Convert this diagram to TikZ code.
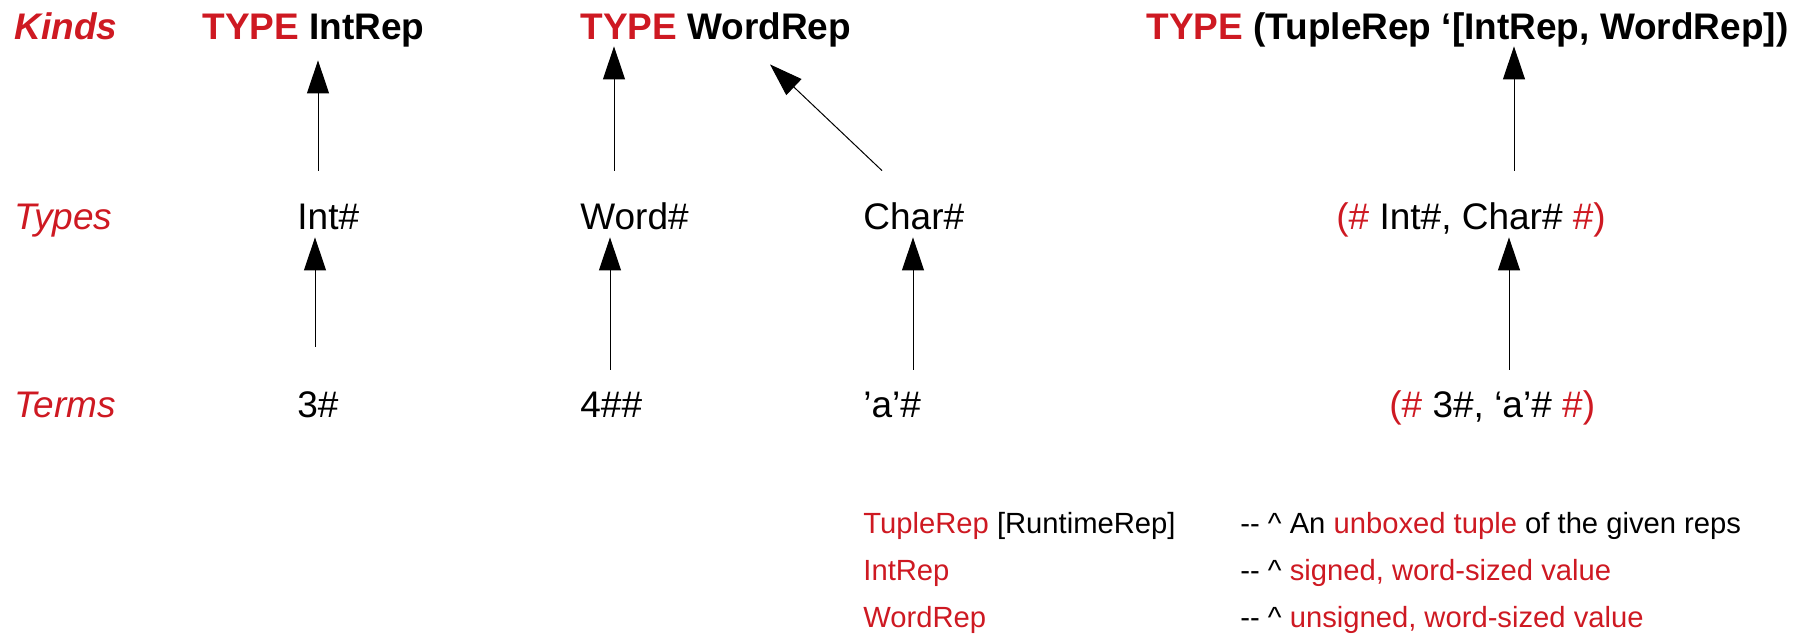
\documentclass[tikz,border=0pt]{standalone}
\usepackage{fontspec}
\setmainfont{Liberation Sans}
\usepackage{xcolor}
\usepackage{tikz}
\usetikzlibrary{arrows.meta}
\definecolor{rd}{RGB}{206,25,34}
\tikzset{big/.style={anchor=base west,inner sep=0pt,font=\fontsize{18.5}{22}\selectfont,text height=13.5pt,text depth=4pt}}
\tikzset{small/.style={anchor=base west,inner sep=0pt,font=\fontsize{14.6}{18}\selectfont}}
\tikzset{up/.style={-{Triangle[length=16.5pt,width=11pt]},line width=0.5pt}}

\begin{document}
\begin{tikzpicture}[x=0.5pt,y=-0.5pt]
        \useasboundingbox (0,0) rectangle (1812,634);

        % row labels
        \node[big,rd] (lk) at (14,39) {\textbf{\textit{Kinds}}};
        \node[big,rd] (lt) at (14,229) {\textit{Types}};
        \node[big,rd] (le) at (14,417) {\textit{Terms}};

        % kinds
        \node[big] (k1) at (202,39) {\textbf{\textcolor{rd}{TYPE} IntRep}};
        \node[big] (k2) at (580,39) {\textbf{\textcolor{rd}{TYPE} WordRep}};
        \node[big] (k3) at (1146,39) {\textbf{\textcolor{rd}{TYPE} (TupleRep `[IntRep, WordRep])}};

        % types
        \node[big] (t1) at (297,229) {Int\#};
        \node[big] (t2) at (580,229) {Word\#};
        \node[big] (t3) at (863,229) {Char\#};
        \node[big] (t4) at (1336,229) {\textcolor{rd}{(\#} Int\#, Char\# \textcolor{rd}{\#)}};

        % terms
        \node[big] (e1) at (297,417) {3\#};
        \node[big] (e2) at (580,417) {4\#\#};
        \node[big] (e3) at (863,417) {'a'\#};
        \node[big] (e4) at (1389,417) {\textcolor{rd}{(\#} 3\#, `a'\# \textcolor{rd}{\#)}};

        \draw [up] ([xshift=10.5pt,yshift=15.5pt]t1.north west) to [] ([xshift=58pt,yshift=-6.5pt]k1.south west);
        \draw [up] ([xshift=17pt,yshift=15.5pt]t2.north west) to [] ([xshift=17pt,yshift=0.5pt]k2.south west);
        \draw [up] ([xshift=9.5pt,yshift=15.5pt]t3.north west) to [] ([xshift=95pt,yshift=-8.5pt]k2.south west);
        \draw [up] ([xshift=89pt,yshift=15.5pt]t4.north west) to [] ([xshift=184pt,yshift=0.5pt]k3.south west);

        \draw [up] ([xshift=9pt,yshift=21.5pt]e1.north west) to [] ([xshift=9pt]t1.south west);
        \draw [up] ([xshift=15pt,yshift=10pt]e2.north west) to [] ([xshift=15pt]t2.south west);
        \draw [up] ([xshift=25pt,yshift=10pt]e3.north west) to [] ([xshift=25pt]t3.south west);
        \draw [up] ([xshift=60pt,yshift=10pt]e4.north west) to [] ([xshift=86.5pt]t4.south west);

        % legend
        \node[small] (l1) at (863,533) {\textcolor{rd}{TupleRep} [RuntimeRep]};
        \node[small] (l2) at (863,580) {\textcolor{rd}{IntRep}};
        \node[small] (l3) at (863,627) {\textcolor{rd}{WordRep}};
        \node[small] (c1) at (1240,533) {-{}- \textasciicircum{} An \textcolor{rd}{unboxed tuple} of the given reps};
        \node[small] (c2) at (1240,580) {-{}- \textasciicircum{} \textcolor{rd}{signed, word-sized value}};
        \node[small] (c3) at (1240,627) {-{}- \textasciicircum{} \textcolor{rd}{unsigned, word-sized value}};
\end{tikzpicture}
\end{document}
